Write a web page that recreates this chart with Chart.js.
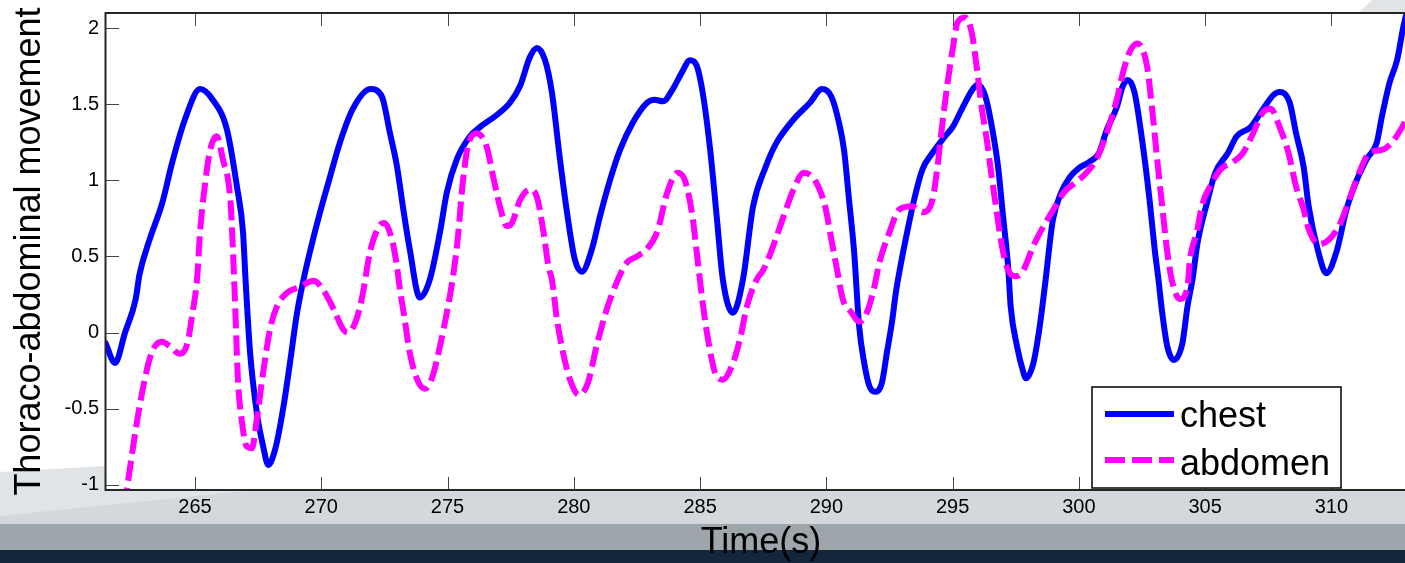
<!DOCTYPE html>
<html>
<head>
<meta charset="utf-8">
<script src="https://cdn.jsdelivr.net/npm/chart.js@4.4.1/dist/chart.umd.min.js"></script>
<style>
  html, body { margin: 0; padding: 0; overflow: hidden; background: #fff; }
  #wrap { position: absolute; left: 0; top: 0; width: 1416px; height: 563px; }
</style>
</head>
<body>
<div id="wrap"><canvas id="chart" width="1416" height="563"></canvas></div>
<script>
// values
const xTicks = [265, 270, 275, 280, 285, 290, 295, 300, 305, 310];
const yTicks = [-1, -0.5, 0, 0.5, 1, 1.5, 2];

const chestT = [261.46, 261.83, 262.23, 262.65, 262.8, 263.2, 263.7, 264.1, 264.6, 265.2, 265.7, 266.27, 266.66, 266.9, 267.0,
  267.18, 267.45, 267.7, 267.9, 268.2, 268.5, 268.76, 269.04, 269.3, 269.55, 269.95, 270.34, 270.74, 271.25, 271.95,
  272.4, 272.72, 273.0, 273.23, 273.5, 273.9, 274.3, 274.7, 274.97, 275.37, 275.89, 276.28, 276.95, 277.47, 277.87,
  278.26, 278.54, 278.86, 279.13, 279.45, 279.73, 280.04, 280.32, 280.72, 281.03, 281.43, 281.83, 282.34, 282.9, 283.2,
  283.53, 283.92, 284.28, 284.6, 284.85, 285.1, 285.4, 285.66, 285.9, 286.3, 286.7, 287.1, 287.6, 288.0, 288.7,
  289.35, 289.83, 290.2, 290.5, 290.7, 290.9, 291.1, 291.3, 291.5, 291.7, 291.92, 292.2, 292.4, 292.6, 292.75,
  292.95, 293.2, 293.5, 293.8, 294.2, 294.7, 295.0, 295.4, 295.8, 296.0, 296.3, 296.6, 296.8, 297.0, 297.2,
  297.3, 297.55, 297.8, 297.9, 298.2, 298.45, 298.65, 298.97, 299.3, 299.64, 300.0, 300.4, 300.8, 301.1, 301.5,
  301.74, 301.94, 302.2, 302.5, 302.8, 303.0, 303.15, 303.3, 303.5, 303.76, 304.1, 304.3, 304.5, 304.7, 305.1,
  305.4, 305.9, 306.25, 306.8, 307.3, 307.7, 307.95, 308.35, 308.6, 308.9, 309.1, 309.45, 309.8, 310.2, 310.6,
  311.0, 311.4, 311.8, 312.0, 312.3, 312.6, 312.85, 313.1];
const chestY = [-0.07, -0.20, 0.00, 0.22, 0.38, 0.61, 0.85, 1.12, 1.40, 1.60, 1.53, 1.33, 0.96, 0.66, 0.35,
  -0.13, -0.53, -0.75, -0.87, -0.75, -0.49, -0.20, 0.13, 0.35, 0.53, 0.79, 1.02, 1.25, 1.47, 1.60,
  1.55, 1.31, 1.09, 0.83, 0.55, 0.23, 0.35, 0.66, 0.92, 1.14, 1.29, 1.35, 1.43, 1.51, 1.62,
  1.81, 1.87, 1.79, 1.58, 1.14, 0.79, 0.48, 0.40, 0.55, 0.76, 1.00, 1.20, 1.38, 1.51, 1.53,
  1.52, 1.60, 1.71, 1.79, 1.76, 1.58, 1.20, 0.76, 0.35, 0.13, 0.35, 0.83, 1.09, 1.24, 1.40,
  1.51, 1.60, 1.55, 1.38, 1.20, 0.87, 0.53, 0.04, -0.20, -0.35, -0.39, -0.33, -0.13, 0.07, 0.26,
  0.45, 0.66, 0.89, 1.07, 1.18, 1.29, 1.35, 1.48, 1.60, 1.63, 1.55, 1.31, 1.09, 0.76, 0.43,
  0.17, -0.09, -0.26, -0.30, -0.20, 0.04, 0.30, 0.74, 0.92, 1.02, 1.08, 1.12, 1.18, 1.33, 1.48,
  1.62, 1.66, 1.58, 1.27, 0.87, 0.55, 0.35, 0.13, -0.09, -0.18, -0.07, 0.17, 0.35, 0.59, 0.87,
  1.05, 1.18, 1.29, 1.35, 1.47, 1.56, 1.58, 1.51, 1.31, 1.09, 0.83, 0.55, 0.39, 0.53, 0.81,
  1.00, 1.14, 1.25, 1.42, 1.64, 1.79, 2.01, 2.18];

const abdT = [262.2, 262.55, 262.8, 263.1, 263.34, 263.7, 264.0, 264.4, 264.7, 264.9, 265.08, 265.2, 265.4, 265.6, 265.86,
  266.1, 266.4, 266.5, 266.6, 266.7, 266.86, 267.05, 267.25, 267.45, 267.7, 267.97, 268.24, 268.64, 269.16, 269.7,
  270.07, 270.5, 270.87, 271.06, 271.4, 271.65, 271.93, 272.3, 272.5, 272.8, 273.0, 273.1, 273.3, 273.5, 273.8,
  274.1, 274.4, 274.7, 274.97, 275.2, 275.4, 275.6, 275.8, 276.15, 276.55, 276.8, 277.07, 277.35, 277.55, 277.87,
  278.26, 278.54, 278.8, 279.0, 279.13, 279.33, 279.57, 279.85, 280.2, 280.56, 280.9, 281.3, 281.7, 282.1, 282.5,
  282.9, 283.3, 283.7, 284.1, 284.4, 284.7, 284.9, 285.07, 285.3, 285.66, 285.9, 286.26, 286.6, 286.85, 287.25,
  287.5, 287.9, 288.3, 288.7, 289.1, 289.55, 289.95, 290.2, 290.45, 290.65, 291.0, 291.3, 291.6, 291.9, 292.1,
  292.5, 292.9, 293.4, 293.8, 294.2, 294.4, 294.6, 294.8, 295.0, 295.2, 295.5, 295.76, 295.95, 296.15, 296.35,
  296.55, 296.75, 296.95, 297.2, 297.5, 297.8, 298.2, 298.6, 299.0, 299.4, 299.9, 300.3, 300.7, 301.1, 301.5,
  301.75, 302.0, 302.3, 302.7, 302.9, 303.1, 303.3, 303.5, 303.7, 304.0, 304.3, 304.4, 304.67, 304.9, 305.2,
  305.6, 306.1, 306.5, 306.9, 307.3, 307.6, 307.95, 308.3, 308.6, 308.9, 309.1, 309.5, 309.9, 310.3, 310.7,
  311.1, 311.5, 312.0, 312.4, 312.8, 313.1];
const abdY = [-1.15, -0.75, -0.49, -0.24, -0.11, -0.06, -0.09, -0.14, -0.07, 0.13, 0.35, 0.66, 0.98, 1.20, 1.29,
  1.14, 0.87, 0.55, 0.13, -0.31, -0.59, -0.75, -0.76, -0.57, -0.26, 0.02, 0.17, 0.26, 0.30, 0.34,
  0.28, 0.15, 0.02, 0.00, 0.09, 0.26, 0.53, 0.70, 0.72, 0.61, 0.43, 0.30, 0.09, -0.13, -0.31,
  -0.37, -0.29, -0.09, 0.13, 0.35, 0.61, 0.98, 1.22, 1.31, 1.22, 1.03, 0.83, 0.70, 0.72, 0.87,
  0.94, 0.89, 0.66, 0.43, 0.35, 0.09, -0.13, -0.31, -0.41, -0.33, -0.09, 0.15, 0.33, 0.46, 0.50,
  0.55, 0.66, 0.92, 1.05, 1.00, 0.76, 0.48, 0.24, -0.03, -0.29, -0.31, -0.22, -0.03, 0.17, 0.35,
  0.41, 0.57, 0.76, 0.94, 1.05, 1.00, 0.83, 0.61, 0.39, 0.22, 0.13, 0.07, 0.13, 0.30, 0.46,
  0.66, 0.81, 0.83, 0.79, 0.87, 1.09, 1.38, 1.64, 1.86, 2.04, 2.07, 1.97, 1.75, 1.48, 1.27,
  1.02, 0.79, 0.57, 0.41, 0.37, 0.41, 0.57, 0.70, 0.81, 0.92, 0.99, 1.05, 1.14, 1.31, 1.53,
  1.71, 1.84, 1.90, 1.75, 1.47, 1.14, 0.83, 0.53, 0.33, 0.22, 0.30, 0.48, 0.66, 0.85, 0.96,
  1.07, 1.12, 1.18, 1.31, 1.45, 1.47, 1.35, 1.18, 0.96, 0.81, 0.68, 0.58, 0.61, 0.70, 0.87,
  1.05, 1.18, 1.20, 1.25, 1.35, 1.45];

const FONT = '"Liberation Sans", Arial, sans-serif';
Chart.defaults.font.family = FONT;

function points(ts, vs) {
    return ts.map((t, i) => ({ x: t, y: vs[i] }));
}

// slide background behind the figure
const backdrop = {
    id: 'backdrop',
    beforeDraw(chart) {
        const ctx = chart.ctx, w = chart.width, h = chart.height;
        ctx.save();
        ctx.fillStyle = '#ffffff';
        ctx.fillRect(0, 0, w, h);
        ctx.fillStyle = '#e1e4e7';
        ctx.beginPath();
        ctx.moveTo(1358, 13); ctx.lineTo(1372, 0); ctx.lineTo(w, 0); ctx.lineTo(w, 13);
        ctx.closePath(); ctx.fill();
        ctx.fillStyle = '#d4d8dc';
        ctx.fillRect(0, 490, w, 34);
        ctx.fillStyle = '#e1e4e7';
        ctx.beginPath();
        ctx.moveTo(0, 472); ctx.lineTo(106, 466); ctx.lineTo(106, 490); ctx.lineTo(255, 490); ctx.lineTo(0, 516);
        ctx.closePath(); ctx.fill();
        ctx.fillStyle = '#9da6ab';
        ctx.fillRect(0, 524, w, 26);
        ctx.fillStyle = '#13263a';
        ctx.fillRect(0, 550, w, h - 550);
        ctx.restore();
    }
};

// matlab style inward ticks, box and legend
const frame = {
    id: 'frame',
    beforeDatasetsDraw(chart) {
        const { ctx, chartArea: a, scales: { x, y } } = chart;
        const len = 13;
        ctx.save();
        ctx.strokeStyle = '#444';
        ctx.lineWidth = 1;
        ctx.beginPath();
        x.ticks.forEach(t => {
            const px = Math.round(x.getPixelForValue(t.value)) + 0.5;
            ctx.moveTo(px, a.bottom); ctx.lineTo(px, a.bottom - len);
            ctx.moveTo(px, a.top); ctx.lineTo(px, a.top + len);
        });
        y.ticks.forEach(t => {
            const py = Math.round(y.getPixelForValue(t.value)) + 0.5;
            ctx.moveTo(a.left, py); ctx.lineTo(a.left + len, py);
        });
        ctx.stroke();
        ctx.restore();
    },
    afterDatasetsDraw(chart) {
        const { ctx, chartArea: a } = chart;
        ctx.save();
        ctx.strokeStyle = '#262626';
        ctx.lineWidth = 2;
        ctx.strokeRect(a.left - 0.5, a.top, a.right - a.left + 0.5, a.bottom - a.top);

        // legend box
        const bx = 1092, by = 387, bw = 249, bh = 101;
        ctx.fillStyle = '#ffffff';
        ctx.fillRect(bx, by, bw, bh);
        ctx.strokeStyle = '#000';
        ctx.lineWidth = 1.5;
        ctx.strokeRect(bx, by, bw, bh);
        chart.data.datasets.forEach((ds, i) => {
            const ly = 414 + i * 46;
            ctx.strokeStyle = ds.borderColor;
            ctx.lineWidth = ds.borderWidth;
            ctx.setLineDash(ds.borderDash || []);
            ctx.lineCap = 'butt';
            ctx.beginPath();
            ctx.moveTo(1105, ly); ctx.lineTo(1174, ly);
            ctx.stroke();
            ctx.setLineDash([]);
            ctx.fillStyle = '#000';
            ctx.font = '36px ' + FONT;
            ctx.textBaseline = 'alphabetic';
            ctx.fillText(ds.label, 1180, 427 + i * 48);
        });
        ctx.restore();
    }
};

new Chart(document.getElementById('chart'), {
    type: 'line',
    data: {
        datasets: [{
            label: 'chest',
            data: points(chestT, chestY),
            borderColor: '#0000ff',
            borderWidth: 6,
            pointRadius: 0,
            cubicInterpolationMode: 'monotone',
            borderJoinStyle: 'round',
            borderCapStyle: 'round',
            fill: false,
            clip: 0,
            order: 1
        }, {
            label: 'abdomen',
            data: points(abdT, abdY),
            borderColor: '#ff00ff',
            borderWidth: 6,
            borderDash: [20, 7],
            pointRadius: 0,
            cubicInterpolationMode: 'monotone',
            borderJoinStyle: 'round',
            fill: false,
            clip: 0,
            order: 0
        }]
    },
    options: {
        responsive: false,
        animation: false,
        devicePixelRatio: 1,
        layout: { padding: { top: 13, left: 0, right: 0, bottom: 0 } },
        plugins: { legend: { display: false }, tooltip: { enabled: false } },
        scales: {
            x: {
                type: 'linear',
                min: 261.475,
                max: 313.35,
                afterFit: s => { s.height = 73; s.paddingLeft = 0; s.paddingRight = 0; },
                afterBuildTicks: s => { s.ticks = xTicks.map(v => ({ value: v })); },
                grid: { display: false, drawTicks: false },
                border: { display: false },
                ticks: { padding: 5, color: '#000', font: { size: 20 }, maxRotation: 0, autoSkip: false },
                title: {
                    display: true, text: 'Time(s)', color: '#000',
                    font: { size: 36, lineHeight: 1 }, padding: { top: 0, bottom: 2 }
                }
            },
            y: {
                type: 'linear',
                min: -1.035,
                max: 2.10,
                afterFit: s => { s.width = 106; s.paddingTop = 0; s.paddingBottom = 0; },
                afterBuildTicks: s => { s.ticks = yTicks.map(v => ({ value: v })); },
                grid: { display: false, drawTicks: false },
                border: { display: false },
                ticks: { padding: 7, color: '#000', font: { size: 20 }, callback: v => String(+v.toFixed(2)) },
                title: {
                    display: true, text: 'Thoraco-abdominal movement', color: '#000',
                    font: { size: 36, lineHeight: 1 }, padding: { top: 12, bottom: 0 }
                }
            }
        }
    },
    plugins: [backdrop, frame]
});
</script>
</body>
</html>
